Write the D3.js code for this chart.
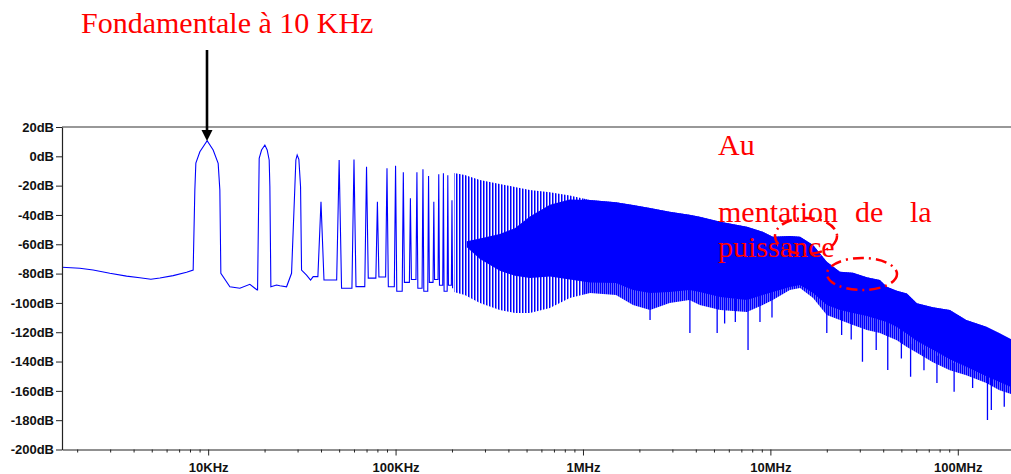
<!DOCTYPE html>
<html><head><meta charset="utf-8">
<script src="https://cdn.jsdelivr.net/npm/d3@7"></script>
<style>html,body{margin:0;padding:0;background:#fff;} svg{display:block;}</style>
</head><body>
<svg id="chart" width="1011" height="474"></svg>
<script>
// ---------- DATA ----------
// y axis ticks (dB)
const yTicks = [20, 0, -20, -40, -60, -80, -100, -120, -140, -160, -180, -200];
// x axis major ticks and labels
const xTickValues = [1e4, 1e5, 1e6, 1e7, 1e8];
const xTickLabels = ["10KHz", "100KHz", "1MHz", "10MHz", "100MHz"];
const xMinorMultipliers = [2, 3, 4, 5, 6, 7, 8, 9];
const xMinorDecades = [1e3, 1e4, 1e5, 1e6, 1e7, 1e8];

// traced low-frequency part of the spectrum (Hz, dB): floor + harmonics 1..3
const traceF  = [1657, 2067, 2433, 2988, 3670, 4319, 4946, 5524, 6505, 7670, 8318,
                 8491, 8597, 9031, 9878, 10634, 11309, 11545, 11688, 13058, 14763, 16697, 17752, 18262,
                 18350, 18720, 19275, 20075, 20650, 21165, 21345, 21610, 23175, 24130, 26205,
                 27860, 29020, 29380, 29850, 30480, 31120, 31500, 33500, 35190, 36340];
const traceDb = [-75.7, -76.4, -77.6, -79.8, -81.7, -82.8, -83.9, -83.0, -81.4, -79.1, -77.6,
                 -23, -4.6, 3.1, 10.6, 4.3, -4.8, -23, -79.8, -89, -90, -87.3, -90, -91.2,
                 -91.2, -1.4, 4.3, 7.7, 4.3, -2.5, -20.7, -89, -87.8, -88.3, -89,
                 -79.8, -20.7, -2.5, 0.9, -2, -20.7, -77.6, -81, -84.4, -82.1];

// individual harmonics 40 kHz .. 200 kHz: peak level and floor after each
const harmF     = [40e3, 50e3, 60e3, 70e3, 80e3, 90e3, 100e3, 110e3, 120e3, 130e3, 140e3, 150e3, 160e3, 170e3, 180e3, 190e3, 200e3];
const harmPeak  = [-31, -2.6, -2.1, -7.1, -31, -8.2, -6.4, -10.9, -28.6, -10.9, -8.9, -13.4, -31, -12.3, -11.6, -13, -30];
const harmFloor = [-84.4, -90, -88.9, -83.1, -82.3, -89, -92, -86, -84, -90, -92, -86, -84, -88, -92, -88, -90];

// dense part (>200 kHz): upper envelope and lower extent of the lines
const denseF     = [205e3, 234e3, 282e3, 360e3, 433e3, 521e3, 666e3, 850e3, 1.09e6, 1.5e6, 1.85e6, 2.28e6, 2.9e6, 3.7e6, 4.2e6, 5.4e6, 7.5e6, 9.1e6, 10.3e6, 12.7e6, 14.4e6, 16.9e6, 20e6, 23.5e6, 27.6e6, 32.7e6, 38.4e6, 41.8e6, 47.3e6, 53.5e6, 60.5e6, 73.6e6, 90.7e6, 111e6, 142e6, 167e6, 200e6];
const denseUpper = [-11.4, -12.8, -16.2, -18.9, -20.9, -23.0, -24.5, -26.8, -29.8, -31.4, -33.2, -35.3, -37.8, -39.8, -41.2, -44.6, -48.0, -51.4, -54.8, -54.4, -54.8, -60.5, -71.9, -78.7, -79.4, -82.5, -84.4, -88.9, -91.7, -93.5, -100.3, -103, -104.8, -111.7, -116.2, -120.7, -126];
const denseLower = [-92.6, -94.6, -100, -104.8, -106.9, -106.9, -103.5, -96.7, -93.2, -94.6, -101.4, -104.8, -100, -98, -101.4, -104.8, -106.2, -101.4, -98, -91.2, -89.8, -96.7, -108.3, -111.7, -115.1, -118.5, -120.6, -122.6, -125.4, -130, -134, -140.4, -145.9, -149.3, -154.7, -159.5, -162.9];

// solid core of the dense part
const coreF      = [240e3, 282e3, 360e3, 433e3, 521e3, 666e3, 850e3, 1.09e6, 1.5e6, 1.85e6, 2.28e6, 2.9e6, 3.7e6, 4.2e6, 5.4e6, 7.5e6, 9.1e6, 10.3e6, 12.7e6, 14.4e6, 16.9e6, 20e6, 23.5e6, 27.6e6, 32.7e6, 38.4e6, 41.8e6, 47.3e6, 53.5e6, 60.5e6, 73.6e6, 90.7e6, 111e6, 142e6, 167e6, 200e6];
const coreTop    = [-58, -56, -53, -49, -41, -33, -29.5, -29.8, -31.4, -33.2, -35.3, -37.8, -39.8, -41.2, -44.6, -48.0, -51.4, -54.8, -54.4, -54.8, -60.5, -71.9, -78.7, -79.4, -82.5, -84.4, -88.9, -91.7, -93.5, -100.3, -103, -104.8, -111.7, -116.2, -120.7, -126];
const coreBottom = [-62, -70, -78, -81.5, -83, -82, -84, -86, -86.4, -91.2, -93.2, -92.6, -91.2, -92.6, -96, -98, -94.6, -92.6, -89.2, -87.8, -93.2, -101.4, -104.8, -106.9, -109, -111.7, -113, -116.5, -121, -126, -132, -138.5, -143.5, -150, -154, -158.2];

// deepest individual spikes (Hz, from dB, to dB)
const spikeF    = [2.28e6, 3.72e6, 5.2e6, 5.7e6, 6.5e6, 7.6e6, 8.8e6, 10.2e6, 20e6, 24e6, 27e6, 31e6, 36.7e6, 42.3e6, 50e6, 56e6, 66e6, 77.4e6, 95.6e6, 120e6, 144e6, 151e6, 177e6];
const spikeFrom = [-93, -91, -95, -96, -97, -98, -95, -92, -101, -105, -106, -108, -111, -113, -118, -128, -132, -136, -141, -146, -150, -151, -155];
const spikeTo   = [-111.6, -120.6, -120.6, -114, -113, -132.2, -113, -110, -120.6, -121.9, -125, -140.1, -132.2, -145.8, -138, -150.3, -146, -154.6, -160.6, -158, -179.9, -173, -170.8];

// ---------- DRAWING ----------
(function () {
const svg = d3.select("#chart");
const pL = 62, pR = 1014.2, pT = 127, pB = 449.5;
const x = d3.scaleLog().domain([1660, 2e8]).range([pL, pR]);
const y = d3.scaleLinear().domain([-200, 20]).range([pB, pT]);
const BLUE = "#0000ff";

const defs = svg.append("defs");
defs.append("clipPath").attr("id", "plotClip").append("rect")
  .attr("x", pL).attr("y", pT).attr("width", 1011 - pL).attr("height", pB - pT);
// sparse lines (200 kHz .. 1 MHz) and dense lines (> 1 MHz)
const split = x(1e6);
defs.append("clipPath").attr("id", "clipA").append("rect")
  .attr("x", pL).attr("y", pT).attr("width", split - pL).attr("height", pB - pT);
defs.append("clipPath").attr("id", "clipB").append("rect")
  .attr("x", split).attr("y", pT).attr("width", 1011 - split).attr("height", pB - pT);
const patA = defs.append("pattern").attr("id", "hatchA").attr("patternUnits", "userSpaceOnUse")
  .attr("width", 3).attr("height", 10);
patA.append("rect").attr("width", 1.5).attr("height", 10).attr("fill", BLUE);
const patB = defs.append("pattern").attr("id", "hatchB").attr("patternUnits", "userSpaceOnUse")
  .attr("width", 2).attr("height", 10);
patB.append("rect").attr("width", 1.6).attr("height", 10).attr("fill", BLUE);

const plot = svg.append("g").attr("clip-path", "url(#plotClip)");

const band = d3.area().x(d => x(d[0])).y0(d => y(d[1])).y1(d => y(d[2]));
const denseData = denseF.map((f, i) => [f, denseLower[i], denseUpper[i]]);
plot.append("g").attr("clip-path", "url(#clipA)").append("path")
  .datum(denseData).attr("d", band).attr("fill", "url(#hatchA)");
plot.append("g").attr("clip-path", "url(#clipB)").append("path")
  .datum(denseData).attr("d", band).attr("fill", "url(#hatchB)");
// solid core
plot.append("path")
  .datum(coreF.map((f, i) => [f, coreBottom[i], coreTop[i]]))
  .attr("d", band).attr("fill", BLUE);
// deep spikes
plot.selectAll("line.spike").data(spikeF).join("line").attr("class", "spike")
  .attr("x1", d => x(d)).attr("x2", d => x(d))
  .attr("y1", (d, i) => y(spikeFrom[i])).attr("y2", (d, i) => y(spikeTo[i]))
  .attr("stroke", BLUE).attr("stroke-width", 1.3);

// traced low-frequency line + harmonic spikes
const lobe = 1500;
const pts = traceF.map((f, i) => [f, traceDb[i]]);
harmF.forEach((f, i) => {
  pts.push([f - lobe, i === 0 ? traceDb[traceDb.length - 1] : harmFloor[i - 1]]);
  pts.push([f, harmPeak[i]]);
  pts.push([f + lobe, harmFloor[i]]);
});
plot.append("path").datum(pts)
  .attr("d", d3.line().x(d => x(d[0])).y(d => y(d[1])))
  .attr("fill", "none").attr("stroke", BLUE).attr("stroke-width", 1.1);

// ---------- AXES ----------
const axisColor = "#222";
svg.append("line").attr("x1", pL).attr("x2", 1011).attr("y1", pT).attr("y2", pT)
  .attr("stroke", "#333").attr("stroke-width", 1.2);

const yAxis = svg.append("g").attr("transform", `translate(${pL},0)`)
  .call(d3.axisLeft(y).tickValues(yTicks).tickFormat(d => d + "dB").tickSize(6).tickSizeOuter(0).tickPadding(2));
const xAxis = svg.append("g").attr("transform", `translate(0,${pB})`)
  .call(d3.axisBottom(x).tickValues(xTickValues).tickFormat((d, i) => xTickLabels[i]).tickSize(6).tickSizeOuter(0).tickPadding(7));
const minorVals = [];
xMinorDecades.forEach(dec => xMinorMultipliers.forEach(m => {
  const v = dec * m; if (v >= 1660 && v <= 2e8) minorVals.push(v);
}));
svg.append("g").attr("transform", `translate(0,${pB})`)
  .call(d3.axisBottom(x).tickValues(minorVals).tickFormat("").tickSize(3).tickSizeOuter(0))
  .select(".domain").remove();

[yAxis, xAxis].forEach(g => {
  g.selectAll("text").attr("font-family", "'Liberation Sans', Arial, sans-serif")
    .attr("font-weight", "bold").attr("font-size", 13).attr("fill", "#111");
});
svg.selectAll(".domain").attr("stroke", axisColor).attr("stroke-width", 1.2);
svg.selectAll(".tick line").attr("stroke", axisColor);

// ---------- ANNOTATIONS ----------
const serif = "'Liberation Serif', 'Times New Roman', serif";
svg.append("text").attr("x", 81).attr("y", 33).text("Fondamentale à 10 KHz")
  .attr("font-family", serif).attr("font-size", 30).attr("fill", "#ff0000");
svg.append("line").attr("x1", 207).attr("x2", 207).attr("y1", 50).attr("y2", 132)
  .attr("stroke", "#000").attr("stroke-width", 2.6);
svg.append("path").attr("d", "M201.5,130 L212.5,130 L207,141 Z").attr("fill", "#000");

const ann = [
  {t: "Au", x: 718, y: 155},
  {t: "mentation", x: 718, y: 222},
  {t: "de", x: 855, y: 222},
  {t: "la", x: 910, y: 222},
  {t: "puissance", x: 718, y: 257}
];
svg.selectAll("text.ann").data(ann).join("text").attr("class", "ann")
  .attr("x", d => d.x).attr("y", d => d.y).text(d => d.t)
  .attr("font-family", serif).attr("font-size", 30).attr("fill", "#ff0000");

const ell = [{cx: 806, cy: 236, rx: 31, ry: 18}, {cx: 862, cy: 274, rx: 35, ry: 16}];
svg.selectAll("ellipse").data(ell).join("ellipse")
  .attr("cx", d => d.cx).attr("cy", d => d.cy).attr("rx", d => d.rx).attr("ry", d => d.ry)
  .attr("fill", "none").attr("stroke", "#ff0000").attr("stroke-width", 2.5)
  .attr("stroke-dasharray", "11,5,2,5");
})();
</script>
</body></html>
